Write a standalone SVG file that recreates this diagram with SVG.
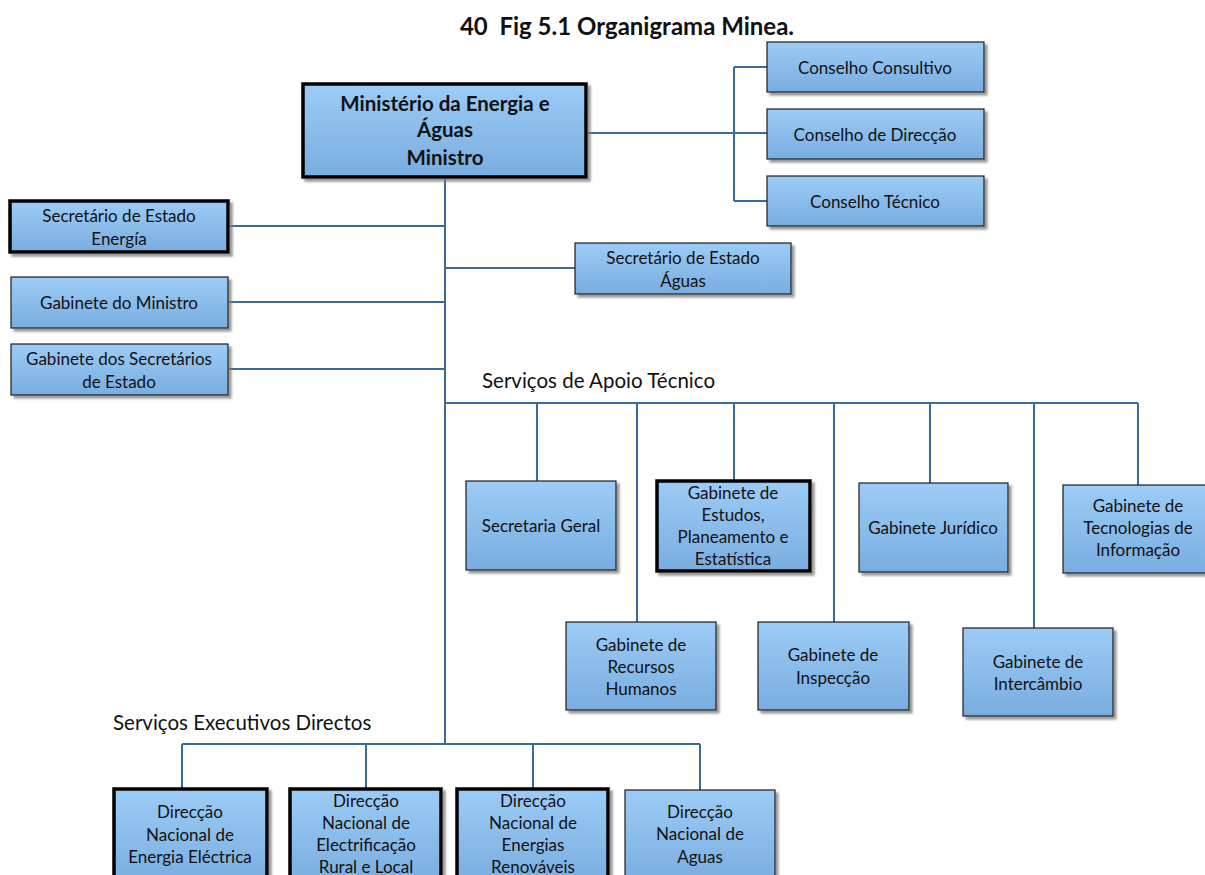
<svg xmlns="http://www.w3.org/2000/svg" width="1205" height="875" viewBox="0 0 1205 875">
  <style>
    .box { fill: url(#boxFill); stroke: #1c1c1c; stroke-width: 1.2; filter: url(#shadow); }
    .box.strong { stroke: #000; stroke-width: 3.5; }
    .lbl { font-family: "Lato", "Liberation Sans", sans-serif; font-size: 17px; fill: #111; text-anchor: middle; dominant-baseline: central; }
    .head { font-family: "Lato", "Liberation Sans", sans-serif; font-size: 20.5px; font-weight: bold; fill: #111; text-anchor: middle; dominant-baseline: central; }
    .title { font-family: "Lato", "Liberation Sans", sans-serif; font-size: 24px; font-weight: bold; fill: #111; text-anchor: middle; dominant-baseline: central; }
    .sec { font-family: "Lato", "Liberation Sans", sans-serif; font-size: 20.5px; fill: #111; dominant-baseline: central; }
    .conn { fill: none; stroke: #3b6a9c; stroke-width: 2; }
  </style>
  <defs>
    <linearGradient id="boxFill" x1="0" y1="0" x2="0" y2="1">
      <stop offset="0" stop-color="#9cccf6"/>
      <stop offset="1" stop-color="#79ade0"/>
    </linearGradient>
    <filter id="shadow" x="-10%" y="-10%" width="125%" height="130%">
      <feDropShadow dx="3" dy="3" stdDeviation="1" flood-color="#7f7f7f" flood-opacity="0.8"/>
    </filter>
  </defs>

  <rect width="1205" height="875" fill="#fff"/>

  <text class="title" x="627" y="25" xml:space="preserve">40  Fig 5.1 Organigrama Minea.</text>

  <!-- connectors -->
  <g id="connectors">
    <path class="conn" d="M445 177 V744"/>
    <path class="conn" d="M586 133 H767 M734 67 V201 M734 67 H767 M734 201 H767"/>
    <path class="conn" d="M228 226 H445 M445 268 H575 M228 302 H445 M228 369 H445"/>
    <path class="conn" d="M445 403 H1138"/>
    <path class="conn" d="M537 403 V481 M637 403 V622 M734 403 V481 M834 403 V622 M930 403 V483 M1034 403 V628 M1138 403 V485"/>
    <path class="conn" d="M182 744 H700 M182 744 V789 M366 744 V789 M533 744 V789 M700 744 V790"/>
  </g>

  <g id="ministro">
    <rect class="box strong" x="303" y="84" width="283" height="93"/>
    <text class="head" x="445" y="103">Ministério da Energia e</text>
    <text class="head" x="445" y="129">Águas</text>
    <text class="head" x="445" y="157">Ministro</text>
  </g>

  <g id="conselho-consultivo">
    <rect class="box" x="767" y="42" width="217" height="50"/>
    <text class="lbl" x="875" y="67">Conselho Consultivo</text>
  </g>
  <g id="conselho-direccao">
    <rect class="box" x="767" y="109" width="217" height="50"/>
    <text class="lbl" x="875" y="134">Conselho de Direcção</text>
  </g>
  <g id="conselho-tecnico">
    <rect class="box" x="767" y="176" width="217" height="50"/>
    <text class="lbl" x="875" y="201">Conselho Técnico</text>
  </g>

  <g id="sec-energia">
    <rect class="box strong" x="10" y="201" width="218" height="51"/>
    <text class="lbl" x="119" y="215">Secretário de Estado</text>
    <text class="lbl" x="119" y="238">Energía</text>
  </g>
  <g id="sec-aguas">
    <rect class="box" x="575" y="243" width="216" height="51"/>
    <text class="lbl" x="683" y="257">Secretário de Estado</text>
    <text class="lbl" x="683" y="280">Águas</text>
  </g>
  <g id="gab-ministro">
    <rect class="box" x="11" y="277" width="217" height="51"/>
    <text class="lbl" x="119" y="302">Gabinete do Ministro</text>
  </g>
  <g id="gab-secretarios">
    <rect class="box" x="11" y="344" width="217" height="51"/>
    <text class="lbl" x="119" y="358">Gabinete dos Secretários</text>
    <text class="lbl" x="119" y="381">de Estado</text>
  </g>

  <text class="sec" x="482" y="380">Serviços de Apoio Técnico</text>

  <g id="secretaria-geral">
    <rect class="box" x="466" y="481" width="150" height="89"/>
    <text class="lbl" x="541" y="525">Secretaria Geral</text>
  </g>
  <g id="gab-estudos">
    <rect class="box strong" x="657" y="481" width="153" height="90"/>
    <text class="lbl" x="733" y="492">Gabinete de</text>
    <text class="lbl" x="733" y="514">Estudos,</text>
    <text class="lbl" x="733" y="536">Planeamento e</text>
    <text class="lbl" x="733" y="558">Estatística</text>
  </g>
  <g id="gab-juridico">
    <rect class="box" x="859" y="483" width="149" height="89"/>
    <text class="lbl" x="933" y="527">Gabinete Jurídico</text>
  </g>
  <g id="gab-ti">
    <rect class="box" x="1063" y="485" width="150" height="88"/>
    <text class="lbl" x="1138" y="505">Gabinete de</text>
    <text class="lbl" x="1138" y="527">Tecnologias de</text>
    <text class="lbl" x="1138" y="549">Informação</text>
  </g>
  <g id="gab-rh">
    <rect class="box" x="566" y="622" width="150" height="88"/>
    <text class="lbl" x="641" y="644">Gabinete de</text>
    <text class="lbl" x="641" y="666">Recursos</text>
    <text class="lbl" x="641" y="688">Humanos</text>
  </g>
  <g id="gab-inspeccao">
    <rect class="box" x="758" y="622" width="151" height="88"/>
    <text class="lbl" x="833" y="654">Gabinete de</text>
    <text class="lbl" x="833" y="677">Inspecção</text>
  </g>
  <g id="gab-intercambio">
    <rect class="box" x="963" y="628" width="150" height="88"/>
    <text class="lbl" x="1038" y="661">Gabinete de</text>
    <text class="lbl" x="1038" y="683">Intercâmbio</text>
  </g>

  <text class="sec" x="113" y="722">Serviços Executivos Directos</text>

  <g id="dn-energia-electrica">
    <rect class="box strong" x="114" y="789" width="153" height="95"/>
    <text class="lbl" x="190" y="811">Direcção</text>
    <text class="lbl" x="190" y="834">Nacional de</text>
    <text class="lbl" x="190" y="856">Energia Eléctrica</text>
  </g>
  <g id="dn-electrificacao">
    <rect class="box strong" x="290" y="789" width="151" height="95"/>
    <text class="lbl" x="366" y="800">Direcção</text>
    <text class="lbl" x="366" y="822">Nacional de</text>
    <text class="lbl" x="366" y="844">Electrificação</text>
    <text class="lbl" x="366" y="866">Rural e Local</text>
  </g>
  <g id="dn-renovaveis">
    <rect class="box strong" x="457" y="789" width="151" height="95"/>
    <text class="lbl" x="533" y="800">Direcção</text>
    <text class="lbl" x="533" y="822">Nacional de</text>
    <text class="lbl" x="533" y="844">Energias</text>
    <text class="lbl" x="533" y="866">Renováveis</text>
  </g>
  <g id="dn-aguas">
    <rect class="box" x="625" y="790" width="150" height="94"/>
    <text class="lbl" x="700" y="811">Direcção</text>
    <text class="lbl" x="700" y="833">Nacional de</text>
    <text class="lbl" x="700" y="856">Aguas</text>
  </g>
</svg>
